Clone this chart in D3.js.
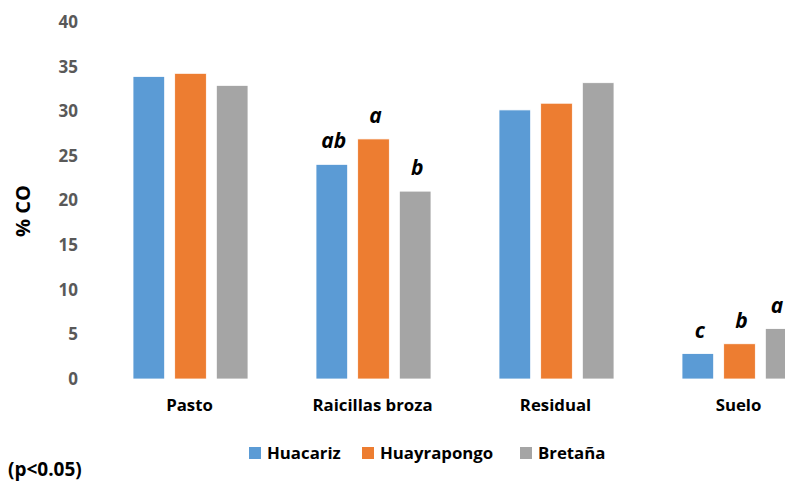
<!DOCTYPE html>
<html>
<head>
<meta charset="utf-8">
<script src="https://cdn.jsdelivr.net/npm/d3@7"></script>
<style>
    body { margin: 0; background: #fff; }
    svg { display: block; font-family: 'Open Sans', 'Liberation Sans', sans-serif; font-weight: bold; }
</style>
</head>
<body>
<div id="chart"></div>
<script>
//Datos
const categorias = ['Pasto', 'Raicillas broza', 'Residual', 'Suelo'];
const series = ['Huacariz', 'Huayrapongo', 'Bretaña'];
const huacariz = [33.9, 24.05, 30.15, 2.85];
const huayrapongo = [34.25, 26.9, 30.9, 3.95];
const bretana = [32.9, 21.05, 33.2, 5.65];
//Letras de significancia (vacío = sin letra)
const letras = [
    ['', '', ''],
    ['ab', 'a', 'b'],
    ['', '', ''],
    ['c', 'b', 'a']
];
const yTicks = [0, 5, 10, 15, 20, 25, 30, 35, 40];

//Colores
const COLOR_BLUE = '#5B9BD5',
COLOR_ORANGE = '#ED7D31',
COLOR_GRAY = '#A5A5A5';

let width = 785, height = 483;

let svg = d3.select('#chart')
    .append('svg')
    .attr('width', width)
    .attr('height', height);

let data = categorias.map(function(c, i) {
    return { cat: c, i: i, values: [huacariz[i], huayrapongo[i], bretana[i]] };
});

let x = d3.scaleBand()
    .domain(categorias)
    .range([98, 830]);

let xSub = d3.scaleBand()
    .domain(series)
    .range([35, 150])
    .paddingInner(0.24);

let y = d3.scaleLinear()
    .domain([0, 40])
    .range([379, 22]);

let color = d3.scaleOrdinal()
    .domain(series)
    .range([COLOR_BLUE, COLOR_ORANGE, COLOR_GRAY]);

//Eje Y
svg.append('g')
    .attr('transform', 'translate(78,0)')
    .call(d3.axisLeft(y).tickValues(yTicks).tickSize(0).tickPadding(0))
    .call(function(g) {
        g.select('.domain').remove();
        g.selectAll('text')
            .attr('fill', '#595959')
            .attr('font-size', '17px')
            .attr('font-weight', 'bold')
            .attr('font-family', "'Open Sans', sans-serif");
    });

//Eje X
svg.append('g')
    .attr('transform', 'translate(0,379)')
    .call(d3.axisBottom(x).tickSize(0).tickPadding(20))
    .call(function(g) {
        g.select('.domain').remove();
        g.selectAll('text')
            .attr('fill', '#000')
            .attr('font-size', '16.8px')
            .attr('font-weight', 'bold')
            .attr('font-family', "'Open Sans', sans-serif");
    });

//Título eje Y
svg.append('text')
    .attr('transform', 'translate(30,211) rotate(-90)')
    .attr('text-anchor', 'middle')
    .attr('font-size', '20px')
    .attr('fill', '#000')
    .text('% CO');

//Barras
let grupos = svg.append('g')
    .selectAll('g')
    .data(data)
    .enter()
    .append('g')
    .attr('transform', function(d) { return 'translate(' + x(d.cat) + ',0)'; });

grupos.selectAll('rect')
    .data(function(d) { return series.map(function(s, j) { return { key: s, value: d.values[j] }; }); })
    .enter()
    .append('rect')
    .attr('x', function(d) { return xSub(d.key); })
    .attr('y', function(d) { return y(d.value); })
    .attr('width', xSub.bandwidth())
    .attr('height', function(d) { return y(0) - y(d.value); })
    .attr('fill', function(d) { return color(d.key); })
    .attr('stroke', '#fff')
    .attr('stroke-width', 0.8);

grupos.selectAll('.letra')
    .data(function(d) { return series.map(function(s, j) { return { key: s, cat: d.cat, value: d.values[j], letra: letras[d.i][j] }; }); })
    .enter()
    .append('text')
    .attr('class', 'letra')
    .attr('x', function(d) {
        //Evitamos que la letra quede cortada en el borde derecho
        let cx = xSub(d.key) + xSub.bandwidth() / 2 + 2;
        return Math.min(cx, width - 8 - x(d.cat));
    })
    .attr('y', function(d) { return y(d.value) - 16; })
    .attr('text-anchor', 'middle')
    .attr('font-size', '21px')
    .attr('font-style', 'italic')
    .attr('fill', '#000')
    .text(function(d) { return d.letra; });

//Leyenda
let legendX = [249, 362, 520];
let leyenda = svg.append('g')
    .selectAll('g')
    .data(series)
    .enter()
    .append('g')
    .attr('transform', function(d, i) { return 'translate(' + legendX[i] + ',447)'; });

leyenda.append('rect')
    .attr('width', 12)
    .attr('height', 12)
    .attr('fill', function(d) { return color(d); });

leyenda.append('text')
    .attr('x', 18)
    .attr('y', 12)
    .attr('font-size', '16.8px')
    .attr('fill', '#000')
    .text(function(d) { return d; });

//Nota
svg.append('text')
    .attr('x', 8)
    .attr('y', 476)
    .attr('font-size', '19px')
    .attr('fill', '#000')
    .text('(p<0.05)');
</script>
</body>
</html>
